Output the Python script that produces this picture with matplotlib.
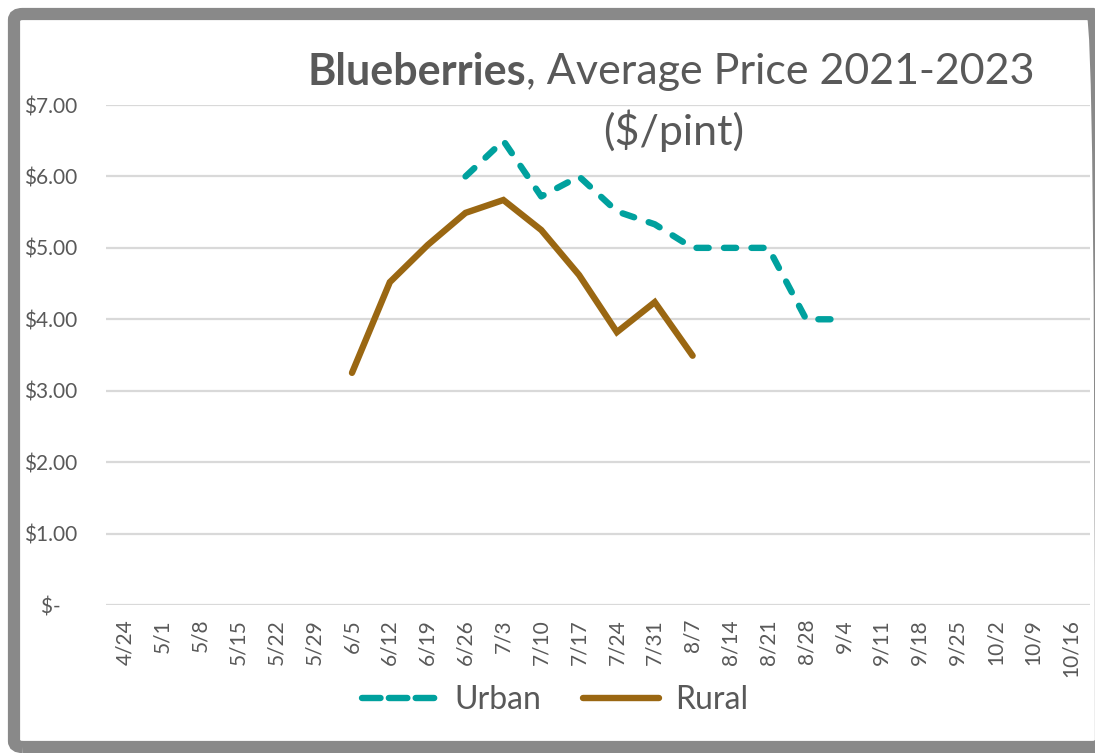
import numpy as np
import matplotlib
matplotlib.use("Agg")
import matplotlib.pyplot as plt
from matplotlib.patches import FancyBboxPatch
from matplotlib.lines import Line2D

weeks = ["4/24", "5/1", "5/8", "5/15", "5/22", "5/29", "6/5", "6/12", "6/19", "6/26",
         "7/3", "7/10", "7/17", "7/24", "7/31", "8/7", "8/14", "8/21", "8/28", "9/4",
         "9/11", "9/18", "9/25", "10/2", "10/9", "10/16"]
nan = np.nan
urban = [nan, nan, nan, nan, nan, nan, nan, nan, nan, 6.00,
         6.50, 5.72, 6.00, 5.51, 5.33, 5.00, 5.00, 5.00, 4.00, 4.00,
         nan, nan, nan, nan, nan, nan]
rural = [nan, nan, nan, nan, nan, nan, 3.25, 4.52, 5.04, 5.49,
         5.67, 5.25, 4.62, 3.82, 4.24, 3.49, nan, nan, nan, nan,
         nan, nan, nan, nan, nan, nan]
yticks = [0, 1, 2, 3, 4, 5, 6, 7]
ylabels = ["$-   ", "$1.00", "$2.00", "$3.00", "$4.00", "$5.00", "$6.00", "$7.00"]

TEAL = "#00A19E"
BROWN = "#9A6712"
TXT = "#595959"
GRID = "#D9D9D9"
FONT = "Lato"

W, H = 1095, 753
fig = plt.figure(figsize=(W / 100, H / 100), dpi=100)
fig.patch.set_facecolor("white")

ax = fig.add_axes([106 / W, 1 - 605 / H, (1090 - 106) / W, (605 - 105) / H])
x = np.arange(len(weeks))
lw = 4.6
ax.plot(x, urban, color=TEAL, lw=lw, linestyle=(0, (1.9, 2.4)),
        dash_capstyle="round", solid_capstyle="round", label="Urban")
ax.plot(x, rural, color=BROWN, lw=lw, solid_capstyle="round",
        solid_joinstyle="miter", label="Rural")

ax.set_xlim(-0.5, len(weeks) - 0.5)
ax.set_ylim(0, 7)
ax.set_yticks(yticks)
ax.set_yticklabels(ylabels, fontsize=15, color=TXT, family=FONT)
ax.set_xticks(x)
ax.set_xticklabels(weeks, rotation=90, fontsize=15, color=TXT, family=FONT)
ax.tick_params(axis="both", length=0)
ax.tick_params(axis="y", pad=21)
ax.tick_params(axis="x", pad=10)
for s in ax.spines.values():
    s.set_visible(False)
ax.grid(axis="y", color=GRID, lw=1.6)
ax.set_axisbelow(True)

leg_handles = [Line2D([], [], color=TEAL, lw=lw, linestyle=(0, (2.9, 1.3)),
                      dash_capstyle="round"),
               Line2D([], [], color=BROWN, lw=lw, solid_capstyle="round")]
leg = fig.legend(leg_handles, ["Urban", "Rural"], loc="center",
                 bbox_to_anchor=(555 / W, 1 - 700 / H), ncol=2, frameon=False,
                 prop={"family": FONT, "size": 23}, handlelength=2.4,
                 columnspacing=1.3, handletextpad=0.5)
for t in leg.get_texts():
    t.set_color(TXT)

# Title: bold + regular parts on first line, centred
fig.canvas.draw()
r = fig.canvas.get_renderer()
ty1 = 1 - 72 / H
TS = 31
t1 = fig.text(0, ty1, "Blueberries", fontsize=TS, fontweight="bold",
              color=TXT, family=FONT, va="center", ha="left")
t2 = fig.text(0, ty1, ", Average Price 2021-2023", fontsize=TS,
              color=TXT, family=FONT, va="center", ha="left")
w1 = t1.get_window_extent(r).width
w2 = t2.get_window_extent(r).width
x0 = 671 - (w1 + w2) / 2
t1.set_x(x0 / W)
t2.set_x((x0 + w1) / W)
fig.text(674 / W, 1 - 131 / H, "($/pint)", fontsize=TS, color=TXT,
         family=FONT, va="center", ha="center")

# Frame
frame = FancyBboxPatch((14 / W, 6 / H), (1101 - 14) / W, (739 - 6) / H,
                       boxstyle="round,pad=0,rounding_size=0.008",
                       transform=fig.transFigure, fill=False,
                       edgecolor="#898989", lw=8.8, zorder=10)
fig.patches.append(frame)

fig.savefig("out.png", dpi=100, facecolor="white")
